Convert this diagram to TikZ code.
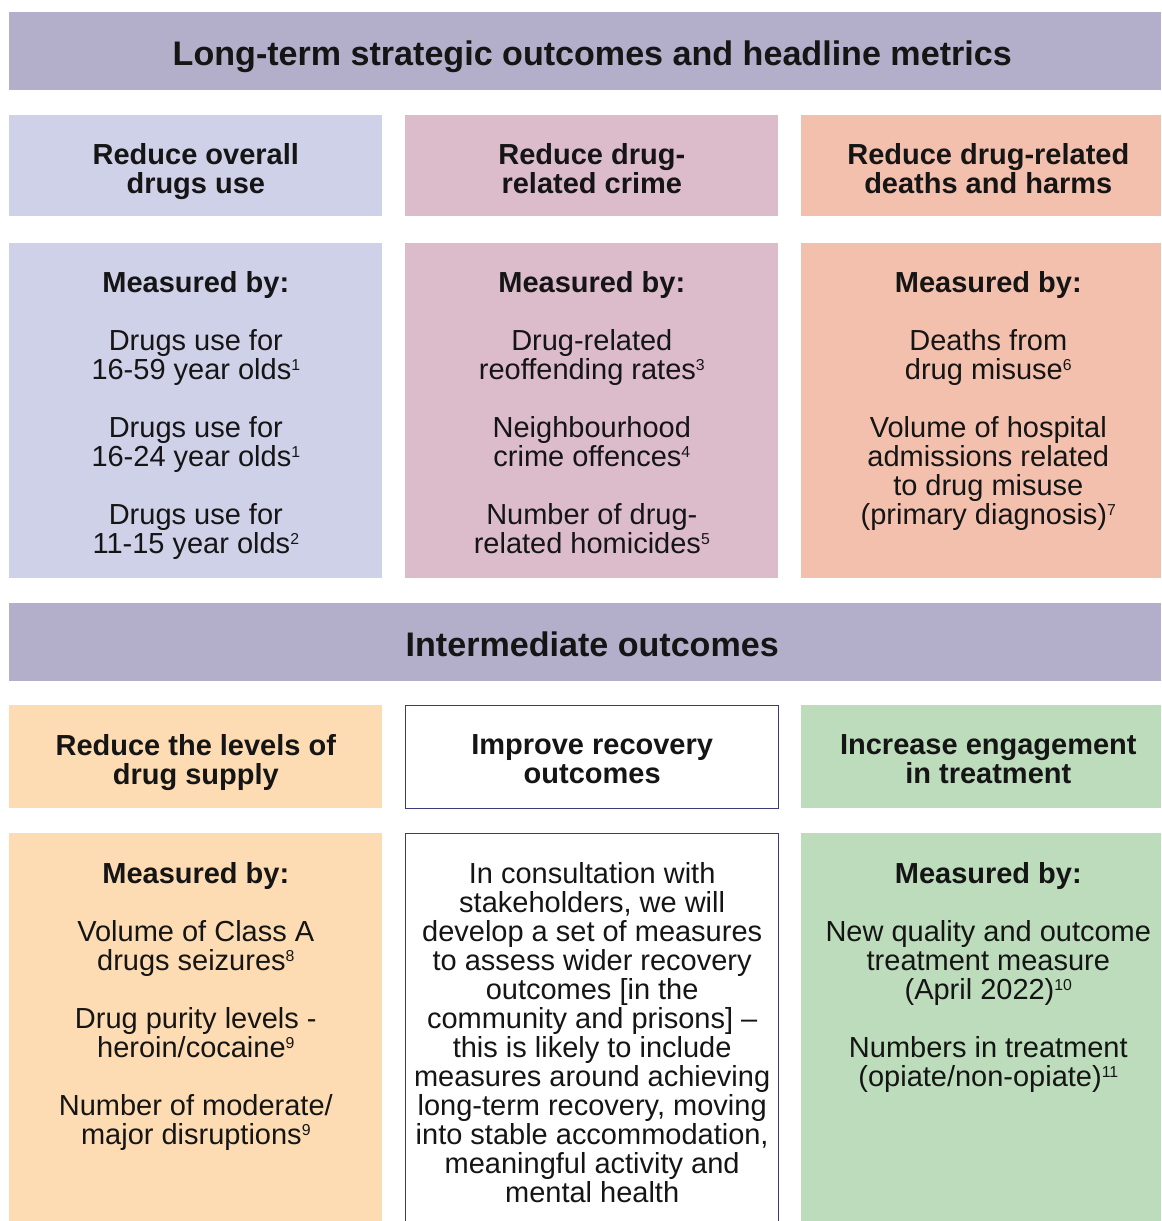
\documentclass[tikz,border=0pt]{standalone}
\usepackage{fontspec}
\setmainfont{Liberation Sans}
\usetikzlibrary{positioning}
\definecolor{bannergrey}{HTML}{B3AEC9}
\definecolor{useblue}{HTML}{CED1E8}
\definecolor{crimepink}{HTML}{DCBCCB}
\definecolor{harmsalmon}{HTML}{F3C0AE}
\definecolor{supplypeach}{HTML}{FDDCB3}
\definecolor{treatgreen}{HTML}{BCDCBC}
\definecolor{framenavy}{HTML}{3B3B7A}
\definecolor{inkblack}{HTML}{151515}
\newcommand{\fnote}[1]{\smash{\raisebox{5.2pt}{\fontsize{9}{9}\selectfont #1}}}

\begin{document}
\begin{tikzpicture}
		[x=0.02cm, y=-0.02cm,
		panel/.style ={rectangle, anchor=north west, inner sep=0pt},
		banner/.style ={panel, fill=bannergrey, minimum width=23.04cm, minimum height=1.56cm},
		heading/.style ={inner sep=0pt, text=inkblack, font=\fontsize{19.4}{20}\selectfont\bfseries},
		goal/.style ={align=center, inner sep=0pt, text=inkblack, font=\fontsize{16.5}{16.5}\selectfont\bfseries},
		measure/.style ={align=center, inner sep=0pt, text=inkblack, font=\fontsize{16.5}{16.5}\selectfont},
		wide/.style ={minimum width=7.46cm},
		narrow/.style ={minimum width=7.2cm},
		framed/.style ={fill=white, draw=framenavy, line width=0.8pt}]
		\useasboundingbox (0,0) rectangle (1161,1221);
		% long-term outcomes
		\draw (9,12) node[banner] (T1) {};
		\node[heading, below=0.57cm of T1.north, xshift=0.14cm] (H1) {Long-term strategic outcomes and headline metrics};
		\draw (9,115) node[panel, wide, minimum height=2.02cm, fill=useblue] (A) {};
		\draw (405,115) node[panel, wide, minimum height=2.02cm, fill=crimepink] (B) {};
		\draw (801,115) node[panel, narrow, minimum height=2.02cm, fill=harmsalmon] (C) {};
		\node[goal, below=0.56cm of A.north] (GA) {Reduce overall\\ drugs use};
		\node[goal, below=0.56cm of B.north] (GB) {Reduce drug-\\ related crime};
		\node[goal, below=0.56cm of C.north, xshift=0.14cm] (GC) {Reduce drug-related\\ deaths and harms};
		\draw (9,243) node[panel, wide, minimum height=6.7cm, fill=useblue] (A2) {};
		\draw (405,243) node[panel, wide, minimum height=6.7cm, fill=crimepink] (B2) {};
		\draw (801,243) node[panel, narrow, minimum height=6.7cm, fill=harmsalmon] (C2) {};
		\node[measure, below=0.56cm of A2.north] (MA) {\textbf{Measured by:}\\[16.5pt]
			Drugs use for\\ 16-59 year olds\fnote{1}\\[16.5pt]
			Drugs use for\\ 16-24 year olds\fnote{1}\\[16.5pt]
			Drugs use for\\ 11-15 year olds\fnote{2}};
		\node[measure, below=0.56cm of B2.north] (MB) {\textbf{Measured by:}\\[16.5pt]
			Drug-related\\ reoffending rates\fnote{3}\\[16.5pt]
			Neighbourhood\\ crime offences\fnote{4}\\[16.5pt]
			Number of drug-\\ related homicides\fnote{5}};
		\node[measure, below=0.56cm of C2.north, xshift=0.14cm] (MC) {\textbf{Measured by:}\\[16.5pt]
			Deaths from\\ drug misuse\fnote{6}\\[16.5pt]
			Volume of hospital\\ admissions related\\ to drug misuse\\ (primary diagnosis)\fnote{7}};
		% intermediate outcomes
		\draw (9,603) node[banner] (T2) {};
		\node[heading, below=0.57cm of T2.north, xshift=0.14cm] (H2) {Intermediate outcomes};
		\draw (9,705) node[panel, wide, minimum height=2.06cm, fill=supplypeach] (D) {};
		\draw (405,705) node[panel, wide, minimum height=2.06cm, framed] (E) {};
		\draw (801,705) node[panel, narrow, minimum height=2.06cm, fill=treatgreen] (F) {};
		\node[goal, below=0.58cm of D.north] (GD) {Reduce the levels of\\ drug supply};
		\node[goal, below=0.58cm of E.north] (GE) {Improve recovery\\ outcomes};
		\node[goal, below=0.58cm of F.north, xshift=0.14cm] (GF) {Increase engagement\\ in treatment};
		\draw (9,833) node[panel, wide, minimum height=8cm, fill=supplypeach] (D2) {};
		\draw (405,833) node[panel, wide, minimum height=8cm, framed] (E2) {};
		\draw (801,833) node[panel, narrow, minimum height=8cm, fill=treatgreen] (F2) {};
		\node[measure, below=0.58cm of D2.north] (MD) {\textbf{Measured by:}\\[16.5pt]
			Volume of Class A\\ drugs seizures\fnote{8}\\[16.5pt]
			Drug purity levels -\\ heroin/cocaine\fnote{9}\\[16.5pt]
			Number of moderate/\\ major disruptions\fnote{9}};
		\node[measure, below=0.58cm of E2.north] (ME) {In consultation with\\ stakeholders, we will\\
			develop a set of measures\\ to assess wider recovery\\ outcomes [in the\\
			community and prisons] --\\ this is likely to include\\ measures around achieving\\
			long-term recovery, moving\\ into stable accommodation,\\ meaningful activity and\\ mental health};
		\node[measure, below=0.58cm of F2.north, xshift=0.14cm] (MF) {\textbf{Measured by:}\\[16.5pt]
			New quality and outcome\\ treatment measure\\ (April 2022)\fnote{10}\\[16.5pt]
			Numbers in treatment\\ (opiate/non-opiate)\fnote{11}};
	\end{tikzpicture}
\end{document}
